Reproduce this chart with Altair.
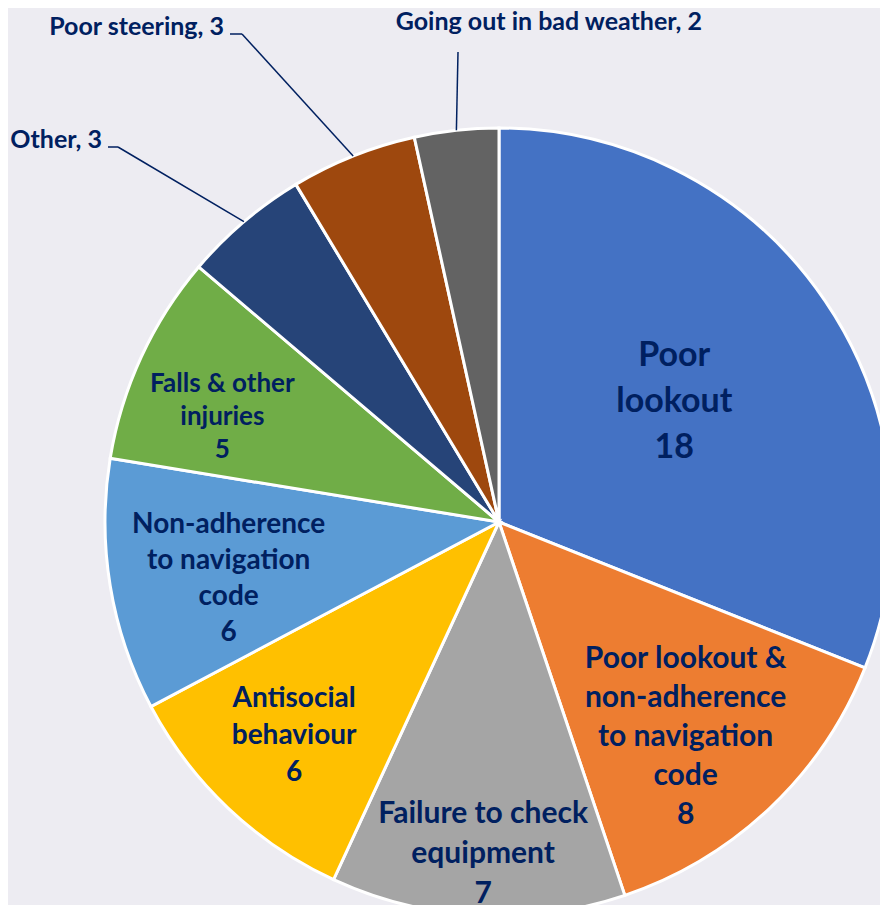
import altair as alt
import pandas as pd

# ---------------- data ----------------
categories = [
    "Poor lookout",
    "Poor lookout & non-adherence to navigation code",
    "Failure to check equipment",
    "Antisocial behaviour",
    "Non-adherence to navigation code",
    "Falls & other injuries",
    "Other",
    "Poor steering",
    "Going out in bad weather",
]
values = [18, 8, 7, 6, 6, 5, 3, 3, 2]
wrapped = [
    "Poor\nlookout",
    "Poor lookout &\nnon-adherence\nto navigation\ncode",
    "Failure to check\nequipment",
    "Antisocial\nbehaviour",
    "Non-adherence\nto navigation\ncode",
    "Falls & other\ninjuries",
    "",
    "",
    "",
]
colors = ["#4472C4", "#ED7D31", "#A5A5A5", "#FFC000", "#5B9BD5",
          "#70AD47", "#264478", "#9E480E", "#636363"]

# ---------------- layout / style ----------------
W, H = 872, 897
cx, cy, R = 491, 514, 394
navy = "#002060"
bg = "#EDECF2"
FONT = "Lato"
total = sum(values)

# inner label layout: radius, dx, dy (block-centre tweaks), fontSize, lineHeight
inner_layout = {
    "Poor lookout": (213, -1, 0, 34, 46),
    "Poor lookout & non-adherence to navigation code": (283, -8, 10, 30, 39),
    "Failure to check equipment": (330, 2, 2, 30, 40),
    "Antisocial behaviour": (295, -2, 0, 28, 37),
    "Non-adherence to navigation code": (276, 2, 12, 28, 36),
    "Falls & other injuries": (296, -8, 19, 26, 33),
}
# outer label layout, relative to pie centre:
# elbow x/y, horizontal end x, label right x, label baseline y
outer_layout = {
    "Other": (-381, -375, -391, -397, -374),
    "Poor steering": (-257, -488, -269, -275, -487),
    "Going out in bad weather": (-41, -470, -41, 203, -492),
}

rows = []
for i, (c, v, w) in enumerate(zip(categories, values, wrapped)):
    row = dict(category=c, value=v, order=i,
               inner=(w + "\n" + str(v)) if w else "",
               outer=(c + ", " + str(v)) if c in outer_layout else "")
    if c in outer_layout:
        ex, ey, hx, lx, ly = outer_layout[c]
        row.update(ex=ex, ey=ey, hx=hx, lx=lx, ly=ly)
    rows.append(row)
df = pd.DataFrame(rows)

theta_scale = alt.Scale(domain=[0, total])

arcs = alt.Chart(df).mark_arc(radius=R, stroke="white", strokeWidth=3).encode(
    theta=alt.Theta("value:Q", stack=True, scale=theta_scale),
    color=alt.Color("category:N", scale=alt.Scale(domain=categories, range=colors), legend=None),
    order=alt.Order("order:Q", sort="ascending"),
    x=alt.value(cx),
    y=alt.value(cy),
)

base = alt.Chart(df).transform_window(
    cum="sum(value)",
    sort=[alt.SortField("order", order="ascending")],
    frame=[None, 0],
).transform_calculate(mid="datum.cum - datum.value / 2")

layers = [arcs]
for name, (r, dx, dy, fs, lh) in inner_layout.items():
    idx = categories.index(name)
    n_lines = wrapped[idx].count("\n") + 2
    layers.append(
        base.transform_filter(alt.datum.category == name)
        .mark_text(radius=r, dx=dx, dy=dy - (n_lines - 1) * lh / 2, fontSize=fs,
                   lineHeight=lh, lineBreak="\n",
                   font=FONT, fontWeight="bold", color=navy, align="center", baseline="middle")
        .encode(
            theta=alt.Theta("mid:Q", scale=theta_scale),
            text="inner:N",
            x=alt.value(cx),
            y=alt.value(cy),
        )
    )

outer = base.transform_filter("datum.outer != ''").transform_calculate(
    ang=f"2 * PI * datum.mid / {total}",
    x0=f"{cx} + {R} * sin(datum.ang)",
    y0=f"{cy} - {R} * cos(datum.ang)",
    x1=f"{cx} + datum.ex",
    y1=f"{cy} + datum.ey",
    x2=f"{cx} + datum.hx",
    tx=f"{cx} + datum.lx",
    ty=f"{cy} + datum.ly",
)

leader1 = outer.mark_rule(color=navy, strokeWidth=1.5).encode(
    x=alt.X("x0:Q", scale=None, axis=None),
    y=alt.Y("y0:Q", scale=None, axis=None),
    x2="x1:Q",
    y2="y1:Q",
)
leader2 = outer.mark_rule(color=navy, strokeWidth=1.5).encode(
    x=alt.X("x1:Q", scale=None, axis=None),
    y=alt.Y("y1:Q", scale=None, axis=None),
    x2="x2:Q",
    y2="y1:Q",
)
outer_text = outer.mark_text(font=FONT, fontWeight="bold", fontSize=25, color=navy,
                             align="right", baseline="alphabetic").encode(
    x=alt.X("tx:Q", scale=None, axis=None),
    y=alt.Y("ty:Q", scale=None, axis=None),
    text="outer:N",
)
layers += [leader1, leader2, outer_text]

chart = alt.layer(*layers).properties(
    width=W, height=H, autosize="none", padding=0
).configure(background=bg).configure_view(strokeWidth=0)

chart.save("out.html", embed_options={"renderer": "svg", "actions": False})
